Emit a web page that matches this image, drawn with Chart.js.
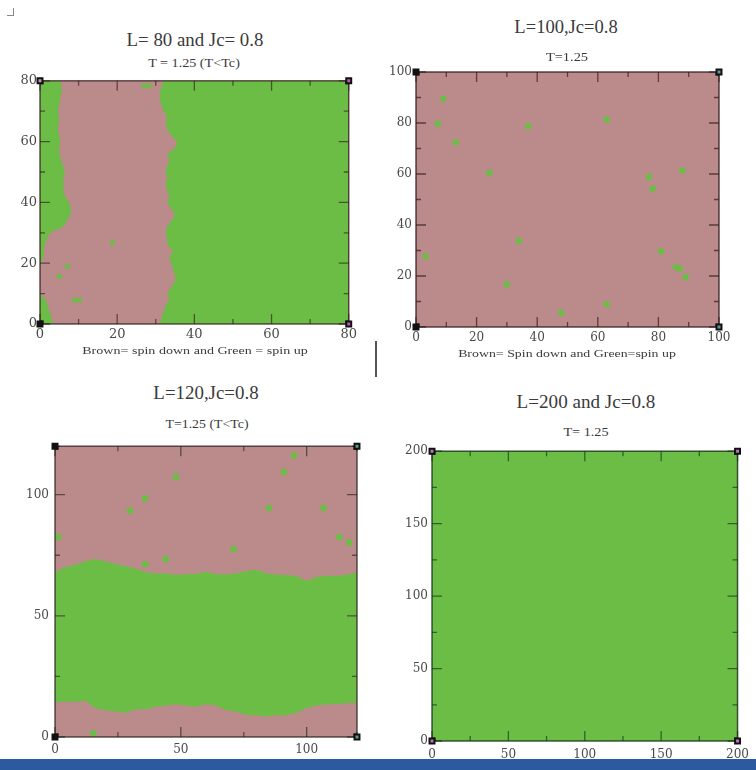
<!DOCTYPE html>
<html>
<head>
<meta charset="utf-8">
<script src="https://cdn.jsdelivr.net/npm/chart.js@4.4.0/dist/chart.umd.min.js"></script>
<style>
  body { margin: 0; background: #fff; width: 756px; height: 770px; position: relative; overflow: hidden; }
  canvas { position: absolute; }
  .t { position: absolute; white-space: nowrap; color: #3a3a3a; line-height: 1; font-family: "Liberation Serif", "Times New Roman", serif; z-index: 2; }
  #bar { position: absolute; left: 0; top: 759px; width: 756px; height: 11px; background: #2c5a9e; z-index: 3; }
  #divider { position: absolute; left: 375px; top: 341px; width: 2px; height: 36px; background: #555; }
  #mark { position: absolute; left: 7px; top: 8px; width: 6px; height: 7px; border-right: 1.5px solid #888; border-bottom: 1.5px solid #888; }
</style>
</head>
<body>
<canvas id="p80" width="360" height="280" style="left:0px;top:70px"></canvas>
<canvas id="p100" width="378" height="290" style="left:378px;top:60px"></canvas>
<canvas id="p120" width="370" height="337" style="left:0px;top:433px"></canvas>
<canvas id="p200" width="378" height="330" style="left:378px;top:440px"></canvas>
<div id="divider"></div>
<div id="mark"></div>
<div id="bar"></div>
<script>
// ---- L = 80 : two vertical domains (green strip on the left, green block on the right)
const l80Y = [0, 2, 4, 6, 8, 10, 12, 14, 16, 18, 20, 22, 24, 26, 28, 30, 32, 34, 36, 38, 40,
              42, 44, 46, 48, 50, 52, 54, 56, 58, 60, 62, 64, 66, 68, 70, 72, 74, 76, 78, 80];
const l80LeftEdge = [3.5, 3, 2.5, 2, 1.5, 0, 0, 0, 0, 0, 0.3, 0.8, 1, 1.2, 1.8, 2.6, 6, 7, 7.8, 8, 7.5,
                     6.5, 6, 6, 6.2, 6.5, 6, 5.5, 5, 5, 5.2, 5, 4.6, 4.8, 5, 4.6, 5, 5.2, 5.5, 5.6, 5.2];
const l80RightEdge = [31, 31.5, 32, 32.5, 33.5, 33, 34, 35, 35, 34.5, 34, 33.5, 34.5, 33, 33, 32.5, 33, 34, 35, 34, 33,
                      33.5, 33, 32.5, 33, 32.5, 33, 33.5, 33, 35, 35.5, 34, 33, 32.5, 33, 32, 31.5, 31, 31, 31.5, 32];
const l80DotsX = [27, 28.3, 18.8, 7.1, 5, 9, 10.3];
const l80DotsY = [78.4, 78.4, 26.7, 19, 15.7, 7.9, 7.9];
const l80Ticks = [0, 10, 20, 30, 40, 50, 60, 70, 80];

// ---- L = 100 : all spin down with a few flipped spins
const l100DotsX = [9, 7.2, 13.1, 37.1, 63, 24.2, 76.9, 78.1, 87.9, 3.2, 34, 80.9, 85.8, 87.1, 89, 30, 47.9, 63];
const l100DotsY = [89.5, 79.7, 72.5, 78.7, 81.4, 60.5, 58.8, 54.2, 61.4, 27.7, 33.7, 29.7, 23.5, 22.9, 19.6, 16.7, 5.6, 8.9];
const l100Ticks = [0, 10, 20, 30, 40, 50, 60, 70, 80, 90, 100];

// ---- L = 120 : horizontal green band
const l120X = [0, 4, 8, 12, 16, 20, 24, 28, 32, 36, 40, 44, 48, 52, 56, 60,
               64, 68, 72, 76, 80, 84, 88, 92, 96, 100, 104, 108, 112, 116, 120];
const l120Upper = [68, 70, 71, 72.5, 73.5, 72.5, 71.5, 70.5, 69.5, 68, 67.5, 67.5, 67, 67.2, 67.3, 68.2,
                   67.2, 67.2, 67.5, 68.5, 69, 67.5, 67, 66.8, 66.3, 64.5, 66, 66.5, 66.5, 67, 68];
const l120Lower = [14.3, 14.5, 14.5, 15, 12, 11, 10.5, 10, 11.5, 11.5, 12.5, 13, 13.5, 13, 12.5, 13.5,
                   13, 11, 10.5, 9, 9, 8.5, 9, 9, 10, 12, 13, 13.5, 13.5, 14, 14];
const l120DotsX = [1.3, 15.2, 29.8, 35.8, 48.1, 35.8, 44, 70.9, 85, 91, 95, 106.7, 113, 116.9];
const l120DotsY = [82.5, 1.6, 93.4, 98.4, 107.4, 71.3, 73.4, 77.5, 94.5, 109.4, 116.2, 94.5, 82.5, 80.2];
const l120Ticks = [0, 25, 50, 75, 100, 120];

// ---- L = 200 : fully spin up
const l200EdgeX = [0, 200];
const l200EdgeY = [200, 200];
const l200Ticks = [0, 25, 50, 75, 100, 125, 150, 175, 200];

const GREEN = '#6cbd45';
const BROWN = '#bb8a8a';
const NONE = 'rgba(0,0,0,0)';

function pts(xs, ys) {
    return xs.map((x, i) => ({ x: x, y: ys[i] }));
}

// background (spin down), inward tick marks and frame
const framePlugin = {
    id: 'frame',
    beforeDraw(chart, args, o) {
        const a = chart.chartArea, ctx = chart.ctx;
        ctx.save();
        ctx.fillStyle = o.bg;
        ctx.fillRect(a.left, a.top, a.right - a.left, a.bottom - a.top);
        ctx.restore();
    },
    afterDatasetsDraw(chart, args, o) {
        const a = chart.chartArea, ctx = chart.ctx;
        const sx = chart.scales.x, sy = chart.scales.y;
        ctx.save();
        ctx.strokeStyle = o.tick;
        ctx.lineWidth = 1.3;
        ctx.beginPath();
        sx.ticks.forEach(t => {
            const p = sx.getPixelForValue(t.value);
            const len = t.label !== '' ? 10 : 5;
            ctx.moveTo(p, a.top); ctx.lineTo(p, a.top + len);
            ctx.moveTo(p, a.bottom); ctx.lineTo(p, a.bottom - len);
        });
        sy.ticks.forEach(t => {
            const p = sy.getPixelForValue(t.value);
            const len = t.label !== '' ? 10 : 5;
            ctx.moveTo(a.left, p); ctx.lineTo(a.left + len, p);
            ctx.moveTo(a.right, p); ctx.lineTo(a.right - len, p);
        });
        ctx.stroke();
        ctx.strokeStyle = o.frame;
        ctx.lineWidth = 1.5;
        ctx.strokeRect(a.left, a.top, a.right - a.left, a.bottom - a.top);
        ctx.restore();
        // corner markers stay on top of the frame
        const cm = chart.getDatasetMeta(o.cornerIndex);
        cm.data.forEach(pt => pt.draw(ctx, a));
    }
};

function axis(L, tickValues, major, fitKey, fitSize, pad, fontSize) {
    const cfg = {
        type: 'linear', min: 0, max: L,
        grid: { display: false, drawTicks: false },
        border: { display: false },
        ticks: {
            autoSkip: false, maxRotation: 0, padding: pad, color: '#4a4a4a',
            font: { family: '"DejaVu Serif", serif', size: fontSize },
            callback: v => (v % major === 0 ? String(v) : '')
        },
        afterBuildTicks: s => { s.ticks = tickValues.map(v => ({ value: v })); },
        afterFit: s => { s[fitKey] = fitSize; }
    };
    return cfg;
}

function dots(xs, ys, r) {
    return { data: pts(xs, ys), showLine: false, pointRadius: r, pointBackgroundColor: GREEN, pointBorderWidth: 0, fill: false };
}

function corners(L, inner) {
    return {
        data: pts([0, L, 0, L], [0, 0, L, L]), showLine: false, pointStyle: 'rect', pointRadius: 3.5,
        pointBackgroundColor: inner, pointBorderColor: '#111', pointBorderWidth: 2, fill: false
    };
}

function region(xs, ys, fillTo, color) {
    return { data: pts(xs, ys), fill: { value: fillTo }, backgroundColor: color, borderColor: NONE, borderWidth: 0, pointRadius: 0 };
}

function makeChart(id, p) {
    return new Chart(document.getElementById(id), {
        type: 'line',
        data: { datasets: p.datasets },
        options: {
            responsive: false, animation: false, events: [],
            indexAxis: p.indexAxis || 'x',
            layout: { padding: p.padding },
            scales: {
                x: axis(p.L, p.ticks, p.major, 'height', p.xH, p.xPad, p.font),
                y: axis(p.L, p.ticks, p.major, 'width', p.yW, p.yPad, p.font)
            },
            plugins: {
                legend: { display: false }, tooltip: { enabled: false },
                frame: p.frame
            }
        },
        plugins: [framePlugin]
    });
}

makeChart('p80', {
    L: 80, ticks: l80Ticks, major: 20, indexAxis: 'y',
    padding: { left: 0, top: 10, right: 11, bottom: 0 }, yW: 40, xH: 26, xPad: 3, yPad: 3, font: 13,
    frame: { bg: BROWN, tick: 'rgba(40,20,20,0.6)', frame: 'rgba(50,25,25,0.75)', cornerIndex: 1 },
    datasets: [
        dots(l80DotsX, l80DotsY, 2.6),
        corners(80, ['#111', '#b55ab5', '#c58ac5', '#b55ab5']),
        region(l80LeftEdge, l80Y, 0, GREEN),
        region(l80RightEdge, l80Y, 80, GREEN)
    ]
});

makeChart('p100', {
    L: 100, ticks: l100Ticks, major: 20,
    padding: { left: 0, top: 12, right: 37, bottom: 0 }, yW: 38, xH: 23, xPad: 4, yPad: 4, font: 12,
    frame: { bg: BROWN, tick: 'rgba(40,20,20,0.65)', frame: 'rgba(50,25,25,0.8)', cornerIndex: 1 },
    datasets: [
        dots(l100DotsX, l100DotsY, 3.2),
        corners(100, ['#111', '#5f9a9a', '#111', '#5f9a9a'])
    ]
});

makeChart('p120', {
    L: 120, ticks: l120Ticks, major: 50,
    padding: { left: 0, top: 10, right: 13, bottom: 0 }, yW: 55, xH: 33, xPad: 6, yPad: 6, font: 12,
    frame: { bg: BROWN, tick: 'rgba(30,30,20,0.6)', frame: 'rgba(40,30,25,0.75)', cornerIndex: 1 },
    datasets: [
        dots(l120DotsX, l120DotsY, 3.3),
        corners(120, ['#111', '#5f9a9a', '#111', '#5f9a9a']),
        region(l120X, l120Lower, 0, BROWN),
        region(l120X, l120Upper, 0, GREEN)
    ]
});

makeChart('p200', {
    L: 200, ticks: l200Ticks, major: 50,
    padding: { left: 0, top: 9, right: 17, bottom: 0 }, yW: 54, xH: 29, xPad: 7, yPad: 4, font: 12,
    frame: { bg: BROWN, tick: 'rgba(20,50,20,0.65)', frame: 'rgba(20,50,20,0.8)', cornerIndex: 0 },
    datasets: [
        corners(200, ['#c070c0', '#c070c0', '#c070c0', '#c070c0']),
        region(l200EdgeX, l200EdgeY, 0, GREEN)
    ]
});

// titles, subtitles and captions
const titles = [
    ['L= 80 and Jc= 0.8', 194.5, 40, 137, 18],
    ['T = 1.25 (T<Tc)', 194, 63, 92, 12],
    ['Brown= spin down and Green = spin up', 194.5, 350, 225, 11],
    ['L=100,Jc=0.8', 566, 27, 103, 18],
    ['T=1.25', 567, 57, 42, 12],
    ['Brown= Spin down and Green=spin up', 567, 353, 218, 11],
    ['L=120,Jc=0.8', 205.5, 393, 105, 18],
    ['T=1.25 (T<Tc)', 206.5, 423.5, 83, 12],
    ['L=200 and Jc=0.8', 585.5, 401.5, 139, 18],
    ['T= 1.25', 585.5, 432, 45, 12]
];

titles.forEach(([text, cx, cy, w, size]) => {
    const d = document.createElement('div');
    d.className = 't';
    d.textContent = text;
    d.style.fontSize = size + 'px';
    document.body.appendChild(d);
    const s = w / d.offsetWidth;
    d.style.left = cx + 'px';
    d.style.top = cy + 'px';
    d.style.transform = 'translate(-50%, -50%) scaleX(' + s.toFixed(3) + ')';
});
</script>
</body>
</html>
